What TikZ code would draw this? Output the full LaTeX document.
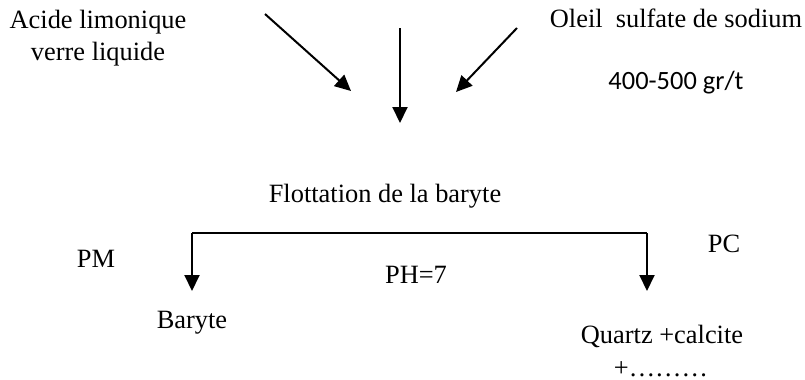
\documentclass[tikz,border=0pt]{standalone}
\usepackage{fontspec}
\setmainfont{Liberation Serif}
\newfontfamily\dosefont{Carlito}
\usetikzlibrary{arrows.meta}

\begin{document}
\begin{tikzpicture}[x=0.5pt,y=-0.5pt,
    arr/.style={-{Triangle[length=8pt,width=7.5pt]},line width=1pt}]

      \useasboundingbox (0,0) rectangle (805,380);

      \begin{scope}[every node/.style={anchor=base, inner sep=0pt,
          font=\fontsize{13.2}{16}\selectfont}]
        \node (acide)  at (98,28)   {Acide limonique};
        \node (verre)  at (98,61)   {verre liquide};
        \node (oleil)  at (676,27)  {Oleil~~sulfate de sodium};
        \node[font=\fontsize{13.2}{16}\dosefont] (dose) at (676,90) {400-500 gr/t};
        \node (flott)  at (385,202) {Flottation de la baryte};
        \node (pm)     at (96,267)  {PM};
        \node (ph)     at (416,283) {PH=7};
        \node (pc)     at (724,252) {PC};
        \node (baryte) at (192,328) {Baryte};
        \node (quartz) at (662,343) {Quartz +calcite};
        \node (reste)  at (661,376) {+………};
      \end{scope}

      % reactifs
      \coordinate (a1) at (265,14);
      \coordinate (a2) at (351,91);
      \coordinate (b1) at (400,28);
      \coordinate (b2) at (400,123);
      \coordinate (c1) at (517,28);
      \coordinate (c2) at (456,92);

      % separation PM / PC
      \coordinate (l)  at (192,233);
      \coordinate (lt) at (192,291);
      \coordinate (r)  at (647,233);
      \coordinate (rt) at (647,291);

      \path (l) edge[draw, line width=0.6pt] (r);

      \begin{scope}[every edge/.style={draw, arr}]
        \path (a1) edge (a2);
        \path (b1) edge (b2);
        \path (c1) edge (c2);
        \path (l)  edge (lt);
        \path (r)  edge (rt);
      \end{scope}

    \end{tikzpicture}
\end{document}
